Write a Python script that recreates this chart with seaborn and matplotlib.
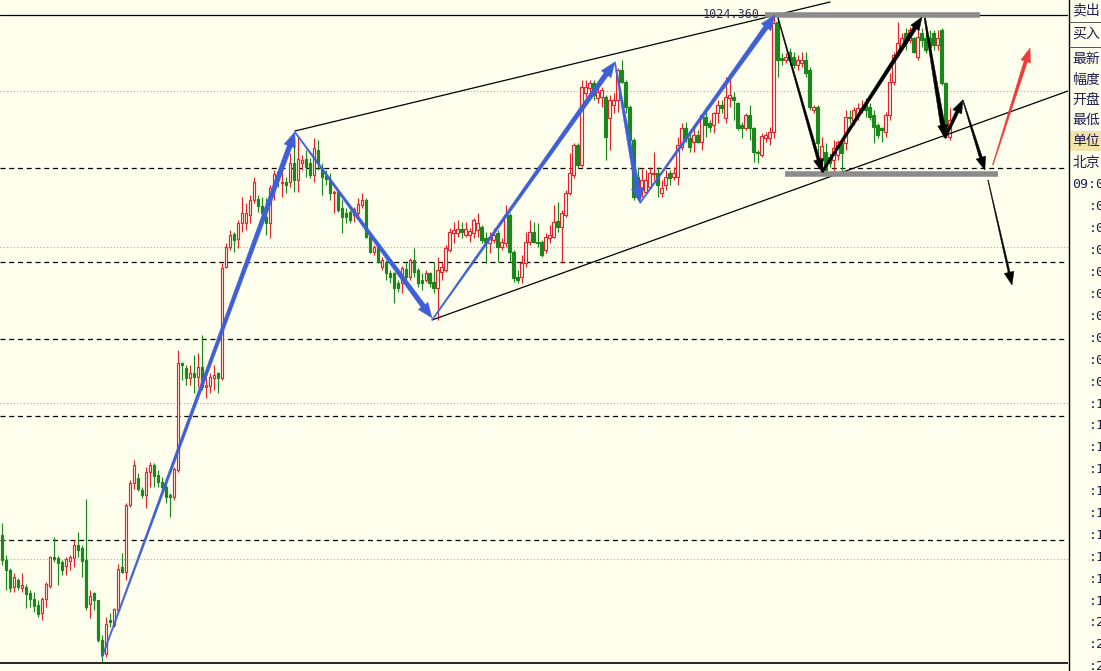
import numpy as np
import matplotlib
matplotlib.use("Agg")
import matplotlib.pyplot as plt
from matplotlib.patches import Polygon, Rectangle
from matplotlib.transforms import IdentityTransform
import seaborn as sns

# candle data (price units), one candle per bar index
opens = [165, 140, 130, 113, 120, 112, 113, 107, 101, 95,
         87, 101, 114, 143, 142, 138, 134, 139, 142, 155,
         152, 140, 96, 107, 100, 60, 46, 80, 75, 90,
         133, 128, 195, 217, 222, 210, 205, 228, 235, 225,
         218, 213, 205, 203, 230, 337, 332, 322, 327, 323,
         333, 313, 314, 322, 327, 322, 433, 453, 466, 461,
         477, 477, 485, 500, 501, 494, 483, 477, 512, 528,
         517, 518, 518, 537, 520, 537, 541, 537, 525, 550,
         532, 524, 520, 507, 508, 492, 487, 488, 485, 487,
         495, 500, 464, 448, 455, 433, 437, 427, 427, 417,
         417, 431, 423, 440, 430, 420, 420, 427, 418, 412,
         428, 430, 450, 467, 467, 471, 465, 465, 467, 470,
         473, 462, 457, 460, 467, 453, 457, 485, 448, 423,
         423, 437, 458, 468, 458, 458, 450, 462, 463, 479,
         473, 485, 507, 525, 555, 535, 607, 612, 617, 602,
         603, 603, 582, 595, 600, 630, 618, 593, 560, 523,
         510, 508, 513, 526, 527, 507, 515, 527, 523, 523,
         553, 572, 562, 558, 565, 558, 583, 577, 575, 587,
         595, 582, 602, 603, 597, 575, 572, 585, 572, 548,
         545, 562, 562, 568, 678, 642, 640, 648, 643, 635,
         637, 640, 630, 590, 593, 540, 548, 543, 540, 545,
         557, 557, 583, 580, 585, 590, 595, 593, 585, 575,
         572, 568, 585, 618, 647, 653, 667, 660, 662, 643,
         667, 662, 662, 667, 655, 670, 617, 563]
highs = [177, 145, 132, 127, 122, 127, 116, 110, 108, 100,
         103, 118, 144, 163, 144, 140, 143, 145, 160, 168,
         155, 201, 110, 108, 100, 65, 83, 87, 92, 136,
         147, 197, 220, 240, 227, 213, 233, 238, 237, 230,
         223, 217, 207, 233, 350, 338, 335, 335, 345, 347,
         365, 323, 327, 335, 328, 437, 457, 470, 468, 480,
         503, 497, 505, 523, 505, 503, 502, 515, 530, 530,
         530, 523, 547, 553, 563, 545, 550, 542, 562, 560,
         537, 530, 527, 510, 510, 500, 492, 490, 493, 502,
         507, 502, 467, 455, 457, 443, 440, 430, 428, 420,
         434, 438, 442, 452, 432, 427, 430, 428, 438, 443,
         438, 455, 472, 478, 480, 478, 478, 472, 482, 487,
         475, 468, 468, 472, 470, 462, 495, 487, 450, 430,
         445, 468, 480, 478, 477, 460, 467, 475, 495, 498,
         490, 510, 547, 557, 557, 620, 620, 620, 620, 613,
         613, 605, 605, 607, 632, 640, 620, 595, 562, 533,
         532, 530, 533, 548, 533, 520, 530, 530, 533, 563,
         577, 578, 567, 573, 570, 587, 593, 580, 588, 600,
         600, 623, 627, 608, 598, 578, 587, 595, 573, 550,
         567, 568, 573, 683, 683, 647, 647, 652, 648, 645,
         648, 648, 633, 595, 595, 563, 557, 547, 560, 560,
         560, 590, 590, 593, 597, 600, 602, 597, 590, 577,
         573, 588, 627, 648, 678, 667, 672, 673, 663, 672,
         672, 668, 670, 670, 670, 672, 618, 592]
lows = [135, 110, 108, 108, 110, 108, 92, 93, 88, 83,
        80, 93, 112, 138, 115, 125, 125, 130, 133, 143,
        123, 90, 82, 90, 58, 38, 43, 73, 73, 88,
        127, 120, 193, 211, 209, 202, 192, 213, 213, 213,
        210, 197, 183, 200, 228, 320, 315, 315, 307, 313,
        310, 302, 307, 310, 307, 320, 432, 450, 448, 452,
        468, 470, 477, 497, 488, 483, 465, 462, 500, 513,
        503, 507, 513, 508, 508, 530, 523, 522, 518, 530,
        505, 515, 500, 487, 488, 467, 477, 477, 478, 482,
        492, 462, 447, 445, 437, 430, 420, 417, 397, 408,
        407, 420, 420, 423, 413, 410, 418, 413, 407, 380,
        420, 428, 448, 457, 463, 462, 463, 458, 462, 463,
        457, 437, 447, 457, 438, 450, 453, 438, 418, 417,
        417, 433, 455, 457, 453, 443, 447, 457, 462, 468,
        437, 483, 505, 522, 532, 533, 603, 607, 600, 597,
        593, 540, 550, 587, 588, 617, 587, 558, 500, 500,
        503, 507, 512, 520, 503, 503, 510, 515, 520, 515,
        550, 558, 548, 548, 557, 550, 563, 568, 567, 577,
        587, 577, 593, 580, 570, 562, 570, 560, 538, 537,
        543, 558, 555, 562, 623, 635, 637, 635, 632, 630,
        633, 623, 590, 587, 533, 530, 527, 533, 527, 540,
        527, 550, 577, 575, 580, 587, 583, 580, 557, 562,
        558, 563, 580, 615, 643, 650, 650, 657, 647, 640,
        653, 647, 648, 650, 650, 615, 563, 560]
closes = [140, 130, 112, 123, 113, 115, 106, 101, 94, 86,
          101, 116, 143, 141, 137, 130, 141, 143, 155, 150,
          139, 93, 104, 100, 60, 45, 76, 78, 91, 131,
          128, 195, 217, 235, 211, 205, 228, 235, 224, 218,
          213, 203, 203, 231, 337, 335, 322, 327, 323, 333,
          313, 315, 323, 325, 322, 432, 453, 465, 460, 477,
          487, 487, 500, 518, 494, 487, 477, 512, 526, 520,
          518, 515, 537, 520, 541, 540, 533, 525, 552, 537,
          523, 521, 507, 508, 490, 483, 483, 480, 491, 496,
          500, 463, 448, 453, 438, 440, 427, 423, 412, 412,
          432, 423, 440, 428, 417, 417, 427, 417, 412, 430,
          433, 452, 468, 470, 471, 468, 471, 469, 480, 477,
          460, 458, 463, 465, 453, 458, 485, 448, 422, 420,
          437, 458, 468, 458, 457, 445, 463, 465, 478, 473,
          487, 507, 527, 555, 535, 613, 613, 617, 605, 608,
          610, 563, 600, 600, 630, 618, 593, 560, 503, 503,
          520, 520, 527, 527, 515, 512, 523, 522, 527, 555,
          572, 562, 553, 565, 558, 585, 575, 573, 587, 595,
          592, 603, 605, 600, 572, 572, 585, 572, 548, 547,
          564, 565, 568, 677, 640, 640, 643, 640, 635, 640,
          640, 627, 593, 593, 557, 554, 530, 537, 552, 558,
          547, 583, 582, 590, 592, 592, 590, 583, 573, 565,
          570, 585, 618, 645, 657, 662, 657, 670, 648, 663,
          660, 650, 653, 655, 662, 617, 567, 580]

# horizontal reference levels
dashed_levels = [532, 438, 361, 284, 160]
dotted_levels = [609, 453, 297, 141]
top_level = 685
bottom_level = 37
top_label = "1024.360"

# drawn trend lines / arrows as (bar index, price) pairs
channel_lines = [[(73.3, 569), (207.1, 698)], [(107.6, 380), (266.6, 609)]]
blue_arrows = [[(25.1, 43), (73.3, 568)], [(73.3, 568), (107.6, 382)],
               [(107.6, 380), (153.3, 638)], [(153.3, 638), (159.6, 497)],
               [(159.6, 497), (193.3, 685)]]
black_arrows = [[(194.1, 682), (205.1, 528)], [(205.1, 528), (230.1, 683)],
                [(230.8, 682), (235.8, 562)], [(235.8, 562), (240.3, 600)],
                [(240.3, 600), (245.8, 530)], [(246.6, 520), (252.6, 415)]]
black_widths = [(0.8, 3.0), (2.5, 4.0), (1.5, 4.5), (2.5, 3.5), (0.8, 3.0), (0.6, 2.0)]
red_arrow = [(247.8, 535), (257.1, 652)]
gray_bars = [(190.8, 244.6, 685), (195.8, 249.1, 526)]

panel_labels = ["卖出", "买入", "最新", "幅度", "开盘", "最低", "单位", "北京"]
panel_label_y = [10, 34, 59, 80, 100, 120, 141, 163]
time_labels = ["09:00"] + [":%02d" % k for k in range(1, 23)]

BG = "#FFFFEE"
RED = "#E3222C"
GREEN = "#1A881A"
BLUE = "#3F5FD8"

sns.set_theme(style="white", rc={"axes.facecolor": BG, "figure.facecolor": BG})
plt.rcParams["font.family"] = ["Noto Sans CJK SC", "DejaVu Sans"]

fig = plt.figure(figsize=(11.01, 6.71), dpi=100)
ax = fig.add_axes([0, 0, 1068 / 1101, 1])
ax.set_facecolor(BG)
ax.set_xlim(-0.425, 266.6)
ax.set_ylim(29, 700)
ax.set_xticks([])
ax.set_yticks([])
for s in ax.spines.values():
    s.set_visible(False)

# reference lines
for lv in dotted_levels:
    ax.axhline(lv, color="#A8A8A0", lw=0.8, ls=(0, (1, 2)), zorder=1)
for lv in dashed_levels:
    ax.axhline(lv, color="black", lw=0.9, ls=(0, (4, 3)), zorder=1)
ax.axhline(top_level, color="black", lw=0.9, zorder=1)
ax.axhline(bottom_level, color="black", lw=1.2, zorder=1)

# candles
idx = np.arange(len(opens))
o = np.array(opens, float)
c = np.array(closes, float)
h = np.array(highs, float)
l = np.array(lows, float)
up = c >= o
cols = np.where(up, RED, GREEN)
ax.vlines(idx, l, h, colors=cols, lw=0.85, zorder=3)
body_lo = np.minimum(o, c)
body_h = np.maximum(np.abs(c - o), 0.8)
ax.bar(idx[up], body_h[up], bottom=body_lo[up], width=0.58,
       color=BG, edgecolor=RED, linewidth=0.85, zorder=4)
ax.bar(idx[~up], body_h[~up], bottom=body_lo[~up], width=0.58,
       color=GREEN, edgecolor=GREEN, linewidth=0.85, zorder=4)

# channel lines
for (p0, p1) in channel_lines:
    sns.lineplot(x=[p0[0], p1[0]], y=[p0[1], p1[1]], ax=ax, color="black",
                 lw=0.9, zorder=5)

ax.text(175.3, top_level, top_label, family="DejaVu Sans Mono", fontsize=8.5,
        color="#303058", va="center", ha="left", zorder=5)

for x0, x1, lv in gray_bars:
    ax.plot([x0, x1], [lv, lv], color="#8C8C8C", lw=4, solid_capstyle="butt", zorder=6)


def taper(p0, p1, w0, w1, color, hl=14, hw=11):
    (x0, y0), (x1, y1) = ax.transData.transform([p0, p1])
    dx, dy = x1 - x0, y1 - y0
    L = np.hypot(dx, dy)
    ux, uy = dx / L, dy / L
    nx, ny = -uy, ux
    bx, by = x1 - ux * hl, y1 - uy * hl
    pts = [(x0 + nx * w0 / 2, y0 + ny * w0 / 2),
           (bx + nx * w1 / 2, by + ny * w1 / 2),
           (bx + nx * hw / 2, by + ny * hw / 2),
           (x1, y1),
           (bx - nx * hw / 2, by - ny * hw / 2),
           (bx - nx * w1 / 2, by - ny * w1 / 2),
           (x0 - nx * w0 / 2, y0 - ny * w0 / 2)]
    ax.add_patch(Polygon(pts, closed=True, fc=color, ec=color, lw=0.3,
                         transform=IdentityTransform(), zorder=7))


for p0, p1 in blue_arrows:
    taper(p0, p1, 1.2, 5.0, BLUE, hl=15, hw=12)
for (p0, p1), (w0, w1) in zip(black_arrows, black_widths):
    taper(p0, p1, w0, w1, "black", hl=13, hw=10)
taper(red_arrow[0], red_arrow[1], 0.8, 3.5, "#F03A3A", hl=14, hw=10)

# right info panel
pax = fig.add_axes([1068 / 1101, 0, 33 / 1101, 1])
pax.set_facecolor(BG)
pax.set_xlim(0, 33)
pax.set_ylim(671, 0)
pax.set_xticks([])
pax.set_yticks([])
for s in pax.spines.values():
    s.set_visible(False)
pax.axvline(0.5, color="black", lw=1.0)
pax.add_patch(Rectangle((1, 131), 32, 20, fc="#F2E4A6", ec="none"))
pax.plot([1, 33], [22, 22], color="#555555", lw=0.7)
pax.plot([1, 33], [47, 47], color="#555555", lw=0.7)
for txt, yy in zip(panel_labels, panel_label_y):
    pax.text(4.5, yy, txt, fontsize=10, color="#1E1E50", va="center", ha="left",
             clip_on=False)
for k, txt in enumerate(time_labels):
    if k == 0:
        pax.text(4.5, 185, txt, family="DejaVu Sans Mono", fontsize=9.5,
                 color="#1E1E50", va="center", ha="left")
    else:
        pax.text(20.5, 185 + 21.9 * k, txt, family="DejaVu Sans Mono",
                 fontsize=9.5, color="#1E1E50", va="center", ha="left")

fig.savefig("out.png", dpi=100, facecolor=BG)
